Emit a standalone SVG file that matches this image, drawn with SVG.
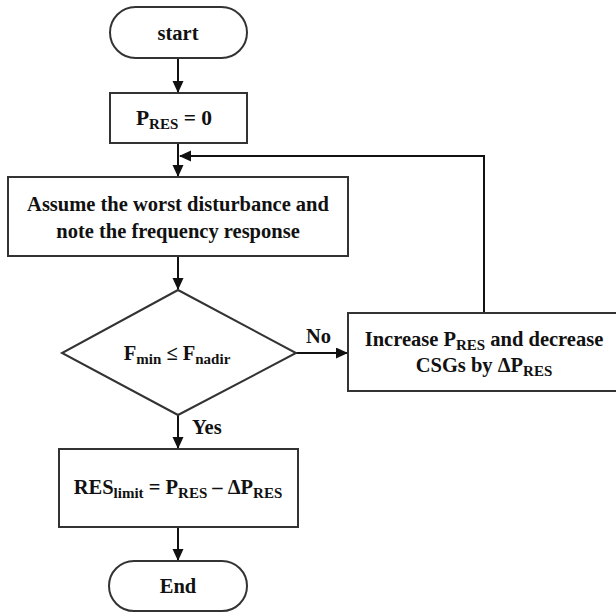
<svg xmlns="http://www.w3.org/2000/svg" width="616" height="613" viewBox="0 0 616 613">
<style>
.shape{fill:#fff;stroke:#333;stroke-width:2}
.line{fill:none;stroke:#111;stroke-width:2}
text{font-family:'Liberation Serif','DejaVu Serif',serif;font-weight:bold;font-size:20.5px;fill:#111}
.sub{font-size:15px}
</style>
<defs>
<marker id="ah" markerWidth="12" markerHeight="12" refX="11" refY="5.5" orient="auto" markerUnits="userSpaceOnUse">
<path d="M0,0 L12,5.5 L0,11 Z" fill="#111"/>
</marker>
</defs>
<rect width="616" height="613" fill="#fff"/>
<g id="connectors">
<line class="line" x1="178" y1="58" x2="178" y2="92" marker-end="url(#ah)"/>
<line class="line" x1="178" y1="143" x2="178" y2="176" marker-end="url(#ah)"/>
<polyline class="line" points="484,313 484,156 180,156" marker-end="url(#ah)"/>
<line class="line" x1="178" y1="256" x2="178" y2="289" marker-end="url(#ah)"/>
<line class="line" x1="296" y1="353" x2="347" y2="353" marker-end="url(#ah)"/>
<line class="line" x1="178" y1="415" x2="178" y2="448" marker-end="url(#ah)"/>
<line class="line" x1="178" y1="527" x2="178" y2="560" marker-end="url(#ah)"/>
<text x="306" y="343">No</text>
<text x="192" y="434">Yes</text>
</g>
<g id="start">
<rect class="shape" x="110" y="7" width="137" height="51" rx="25.5"/>
<text x="178" y="40" text-anchor="middle">start</text>
</g>
<g id="init">
<rect class="shape" x="110" y="93" width="137" height="50"/>
<text x="174" y="125" text-anchor="middle" style="font-size:21.5px">P<tspan class="sub" dy="4">RES</tspan><tspan dy="-4"> = 0</tspan></text>
</g>
<g id="assume">
<rect class="shape" x="8" y="177" width="340" height="79"/>
<text x="178" y="211" text-anchor="middle">Assume the worst disturbance and</text>
<text x="178" y="238" text-anchor="middle">note the frequency response</text>
</g>
<g id="decision">
<polygon class="shape" points="178,290 296,353 178,415 62,353"/>
<text x="177" y="360" text-anchor="middle">F<tspan class="sub" dy="4">min</tspan><tspan dy="-4"> ≤ F</tspan><tspan class="sub" dy="4">nadir</tspan></text>
</g>
<g id="increase">
<rect class="shape" x="348" y="313" width="270" height="78"/>
<text x="484" y="346" text-anchor="middle">Increase P<tspan class="sub" dy="4">RES</tspan><tspan dy="-4"> and decrease</tspan></text>
<text x="484" y="372" text-anchor="middle">CSGs by ΔP<tspan class="sub" dy="4">RES</tspan></text>
</g>
<g id="limit">
<rect class="shape" x="59" y="449" width="239" height="78"/>
<text x="178" y="494" text-anchor="middle">RES<tspan class="sub" dy="4">limit</tspan><tspan dy="-4"> = P</tspan><tspan class="sub" dy="4">RES</tspan><tspan dy="-4"> – ΔP</tspan><tspan class="sub" dy="4">RES</tspan></text>
</g>
<g id="end">
<rect class="shape" x="109" y="561" width="138" height="50" rx="25"/>
<text x="178" y="593" text-anchor="middle">End</text>
</g>
</svg>
